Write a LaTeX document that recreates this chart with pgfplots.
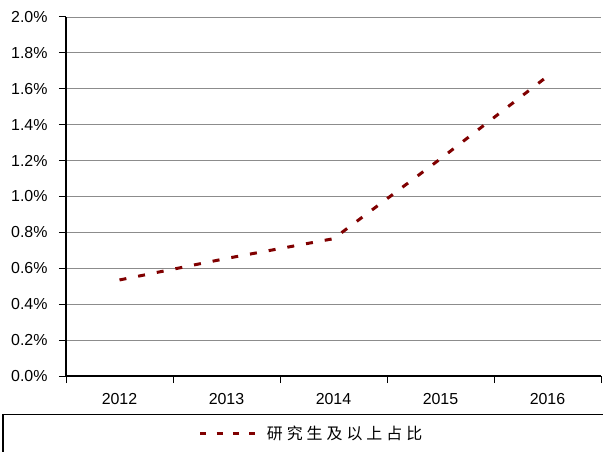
\documentclass[border=0pt]{standalone}
\usepackage{fontspec}
\setmainfont{Liberation Sans}
\newfontfamily\cjk[LetterSpace=25]{Noto Sans CJK SC}
\usepackage{pgfplots}
\pgfplotsset{compat=1.18}

\definecolor{lineRed}{RGB}{128,0,0}
\definecolor{gridGray}{RGB}{140,140,140}

\begin{document}
\begin{tikzpicture}
\begin{axis}[
    scale only axis,
    width=535bp, height=359bp,
    xmin=0.5, xmax=5.5,
    ymin=0, ymax=2.0,
    axis x line*=bottom,
    axis y line*=left,
    axis line style={black, line width=1.2bp},
    xtick={1,...,5},
    xticklabels={2012,2013,2014,2015,2016},
    minor xtick={0.5,1.5,...,5.5},
    major x tick style={draw=none},
    ytick={0,0.2,...,2.0},
    tick align=outside,
    major tick length=7bp,
    minor tick length=7bp,
    tick style={black, line width=1bp},
    ymajorgrids,
    major grid style={gridGray, line width=0.8bp},
    yticklabel={\pgfmathprintnumber[fixed,fixed zerofill,precision=1]{\tick}\%},
    /pgf/number format/assume math mode=true,
    ticklabel style={font=\fontsize{16}{19}\selectfont},
    yticklabel style={xshift=-8bp},
    xticklabel style={yshift=-7bp},
    legend style={draw=none, fill=none, at={(0.459,-0.159)}, anchor=center,
        font=\fontsize{16}{19}\selectfont\cjk, inner sep=0pt,
        /tikz/every even column/.append style={column sep=0bp}},
    legend cell align=left,
    legend image code/.code={\draw[#1, dash pattern=on 6bp off 10.3bp] (0bp,0bp) -- (63bp,0bp);},
]
\addplot[lineRed, line width=3bp, dash pattern=on 7bp off 12bp] coordinates {
    (1,0.535) (2,0.655) (3,0.765) (4,1.21) (5,1.67)
};
\addlegendentry{研究生及以上占比}
\end{axis}
\draw[black, line width=1.2bp] (-63bp,-80bp) -- (-63bp,-38.5bp) -- (545bp,-38.5bp);
\pgfresetboundingbox
\useasboundingbox (-66bp,-76bp) rectangle (537bp,376bp);
\end{tikzpicture}
\end{document}
